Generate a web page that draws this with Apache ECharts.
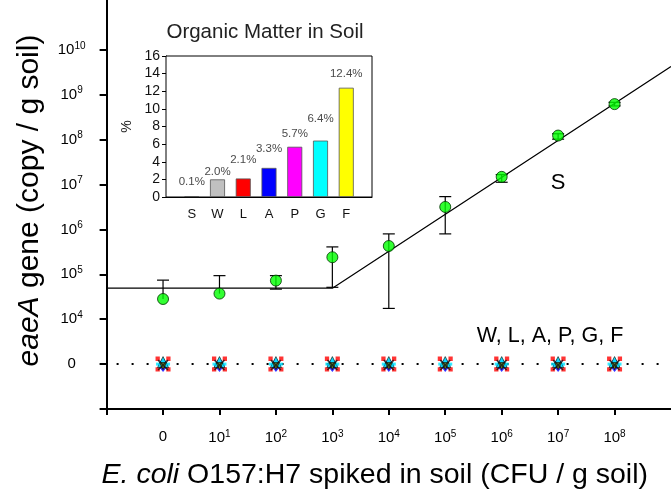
<!DOCTYPE html>
<html>
<head>
<meta charset="utf-8">
<script src="https://cdn.jsdelivr.net/npm/echarts@6/dist/echarts.min.js"></script>
<style>
html,body{margin:0;padding:0;background:#fff;}
#c{width:671px;height:495px;}
</style>
</head>
<body>
<div id="c"></div>
<script>
// ---------- DATA ----------
// x positions on the spiked-level axis: 0 -> "0", n -> 10^n CFU/g
const spikeLevels = [0, 1, 2, 3, 4, 5, 6, 7, 8];
const xTickValues = [0, 1, 2, 3, 4, 5, 6, 7, 8];
const xTickLabels = ['0', '10^1', '10^2', '10^3', '10^4', '10^5', '10^6', '10^7', '10^8'];
// y axis: log10(copies/g); the "0 copies" row sits at position 3
const yTickValues = [3, 4, 5, 6, 7, 8, 9, 10];
const yTickLabels = ['0', '10^4', '10^5', '10^6', '10^7', '10^8', '10^9', '10^10'];
// soil S (log10 copies / g soil)
const sMean    = [4.45, 4.57, 4.86, 5.38, 5.63, 6.50, 7.17, 8.09, 8.79];
const sErrLow  = [4.45, 4.57, 4.67, 4.71, 4.24, 5.90, 7.05, 8.01, 8.75];
const sErrHigh = [4.87, 4.97, 4.97, 5.61, 5.90, 6.73, 7.22, 8.13, 8.83];
// fitted line for S (x position, log10 copies)
const fitX = [-1, 3, 9];
const fitY = [4.69, 4.69, 9.63];
// soils W, L, A, P, G, F: copies detected (all zero)
const otherSoils = ['W', 'L', 'A', 'P', 'G', 'F'];
const otherSoilCopies = [0, 0, 0, 0, 0, 0, 0, 0, 0];
// inset: organic matter in soil (%)
const soilNames = ['S', 'W', 'L', 'A', 'P', 'G', 'F'];
const organicMatter = [0.1, 2.0, 2.1, 3.3, 5.7, 6.4, 12.4];
const organicLabels = ['0.1%', '2.0%', '2.1%', '3.3%', '5.7%', '6.4%', '12.4%'];

// ---------- STYLE ----------
const FONT = '"Liberation Sans", Arial, sans-serif';
const barColors = ['#008000', '#c0c0c0', '#ff0000', '#0000ff', '#ff00ff', '#00ffff', '#ffff00'];
const labelGap = [8, 2, 13, 13, 7, 16, 8];

function copiesToPos(c) { return c > 0 ? Math.log10(c) : 3; }
function richLabel(lbl) {
  const p = lbl.split('^');
  return p.length > 1 ? '{b|' + p[0] + '}{s|' + p[1] + '}' : '{b|' + lbl + '}';
}
const tickRich = {
  b: { fontSize: 15, fontFamily: FONT, color: '#000' },
  s: { fontSize: 10, fontFamily: FONT, color: '#000', padding: [0, 0, 8, 0] }
};

const chart = echarts.init(document.getElementById('c'), null, { renderer: 'canvas' });

const zeroData = spikeLevels.map((x, i) => [x, copiesToPos(otherSoilCopies[i])]);
const markerDefs = [
  { name: 'A', symbol: 'diamond', size: [11, 14], color: '#0000ff', offset: [0, 1] },
  { name: 'L', symbol: 'path://M0,0h4v4h-4z M10,0h4v4h-4z M0,10h4v4h-4z M10,10h4v4h-4z', size: 15, color: '#ff0000', offset: [0, 0] },
  { name: 'G', symbol: 'triangle', size: [11, 11], color: '#00ffff', offset: [0, -2] },
  { name: 'P', symbol: 'rect', size: [14, 3], color: '#00e8ff', offset: [0, 0] },
  { name: 'F', symbol: 'path://M0,0L10,0L5,9Z', size: [7, 7], color: '#888800', offset: [0, 2] },
  { name: 'W', symbol: 'path://M0,1L1,0L5,4L9,0L10,1L6,5L10,9L9,10L5,6L1,10L0,9L4,5Z', size: 11, color: '#111', offset: [0, 1] }
];

const option = {
  backgroundColor: '#fff',
  animation: false,
  grid: [
    { left: 106.6, right: -3, top: 0, bottom: 86 },
    { left: 166, top: 56, width: 206, height: 141, show: true, borderColor: '#000', borderWidth: 1, backgroundColor: '#fff', z: 5 }
  ],
  xAxis: [
    {
      gridIndex: 0, type: 'value', min: -1, max: 9, interval: 1,
      splitLine: { show: false },
      axisLine: { show: true, onZero: false, lineStyle: { color: '#000', width: 2 } },
      axisTick: { show: true, length: 6, lineStyle: { color: '#000', width: 2 }, customValues: [-1, 0, 1, 2, 3, 4, 5, 6, 7, 8] },
      axisLabel: {
        customValues: xTickValues, margin: 20,
        formatter: v => richLabel(xTickLabels[xTickValues.indexOf(v)]),
        rich: tickRich
      },
      name: '{i|E. coli} O157:H7 spiked in soil (CFU / g soil)',
      nameLocation: 'middle', nameGap: 52,
      nameTextStyle: {
        fontSize: 28.5, fontFamily: FONT, color: '#000', padding: [0, 28, 0, 0],
        rich: { i: { fontSize: 28.5, fontFamily: FONT, fontStyle: 'italic', color: '#000' } }
      }
    },
    {
      gridIndex: 1, type: 'category', boundaryGap: false,
      data: [''].concat(soilNames, ['']),
      axisLine: { show: true, onZero: false, lineStyle: { color: '#000', width: 1 } },
      axisTick: { show: false },
      axisLabel: { fontSize: 13, fontFamily: FONT, color: '#111', margin: 11, interval: 0 },
      splitLine: { show: false }
    }
  ],
  yAxis: [
    {
      gridIndex: 0, type: 'value', min: 2, max: 11.109, interval: 1,
      splitLine: { show: false },
      axisLine: { show: true, onZero: false, lineStyle: { color: '#000', width: 2 } },
      axisTick: { show: true, length: 7, lineStyle: { color: '#000', width: 2 }, customValues: [2, 3, 4, 5, 6, 7, 8, 9, 10] },
      axisLabel: {
        customValues: yTickValues, margin: 35, align: 'center',
        formatter: v => richLabel(yTickLabels[yTickValues.indexOf(v)]),
        rich: tickRich
      },
      name: '{i|eaeA} gene (copy / g soil)',
      nameLocation: 'middle', nameGap: 62,
      nameTextStyle: {
        fontSize: 30, fontFamily: FONT, color: '#000', padding: [0, 0, 0, 8],
        rich: { i: { fontSize: 30, fontFamily: FONT, fontStyle: 'italic', color: '#000' } }
      }
    },
    {
      gridIndex: 1, type: 'value', min: 0, max: 16, interval: 2,
      splitLine: { show: false },
      axisLine: { show: true, onZero: false, lineStyle: { color: '#000', width: 1 } },
      axisTick: { show: true, length: 4, lineStyle: { color: '#000' } },
      axisLabel: { fontSize: 14, fontFamily: FONT, color: '#111', margin: 6 },
      name: '%', nameLocation: 'middle', nameGap: 32,
      nameTextStyle: { fontSize: 14, fontFamily: FONT, color: '#222' }
    }
  ],
  series: [
    {
      name: 'zero line', type: 'line', xAxisIndex: 0, yAxisIndex: 0,
      data: [[-1, copiesToPos(0)], [9, copiesToPos(0)]], symbol: 'none',
      lineStyle: { color: '#000', width: 2, type: [2, 13], dashOffset: 5 }, z: 2
    },
    {
      name: 'S fit', type: 'line', xAxisIndex: 0, yAxisIndex: 0,
      data: fitX.map((x, i) => [x, fitY[i]]), symbol: 'none',
      lineStyle: { color: '#000', width: 1.2 }, z: 2
    },
    {
      name: 'S error', type: 'custom', xAxisIndex: 0, yAxisIndex: 0, z: 3,
      data: spikeLevels.map((x, i) => [x, sErrLow[i], sErrHigh[i], sMean[i]]),
      renderItem: function (params, api) {
        const x = api.value(0), lo = api.value(1), hi = api.value(2), m = api.value(3);
        const pl = api.coord([x, lo]), ph = api.coord([x, hi]);
        const st = { stroke: '#000', lineWidth: 1.2 };
        const ch = [{ type: 'line', shape: { x1: pl[0], y1: pl[1], x2: ph[0], y2: ph[1] }, style: st }];
        if (hi > m) ch.push({ type: 'line', shape: { x1: ph[0] - 6, y1: ph[1], x2: ph[0] + 6, y2: ph[1] }, style: st });
        if (lo < m) ch.push({ type: 'line', shape: { x1: pl[0] - 6, y1: pl[1], x2: pl[0] + 6, y2: pl[1] }, style: st });
        return { type: 'group', children: ch };
      }
    },
    {
      name: 'S', type: 'scatter', xAxisIndex: 0, yAxisIndex: 0, z: 4,
      data: spikeLevels.map((x, i) => [x, sMean[i]]),
      symbol: 'circle', symbolSize: 11,
      itemStyle: { color: '#00ff00', borderColor: '#003300', borderWidth: 1 }
    }
  ].concat(markerDefs.map(d => ({
    name: d.name, type: 'scatter', xAxisIndex: 0, yAxisIndex: 0, z: 4,
    data: zeroData, symbol: d.symbol, symbolSize: d.size, symbolOffset: d.offset,
    itemStyle: { color: d.color, borderColor: '#000', borderWidth: d.name === 'G' || d.name === 'F' ? 0.8 : 0 }
  }))).concat([
    {
      name: 'Organic matter', type: 'bar', xAxisIndex: 1, yAxisIndex: 1, z: 6,
      barWidth: 15,
      data: ['-'].concat(organicMatter.map((v, i) => ({
        value: v,
        itemStyle: { color: barColors[i] },
        label: { show: true, position: 'top', distance: labelGap[i], formatter: organicLabels[i] }
      })), ['-']),
      itemStyle: { borderColor: '#555', borderWidth: 0.8 },
      label: { fontSize: 11.5, fontFamily: FONT, color: '#4a4a4a' }
    }
  ]),
  graphic: [
    { type: 'text', x: 265, y: 32, z: 10, style: { text: 'Organic Matter in Soil', fontSize: 20.5, fontFamily: FONT, fill: '#222', align: 'center', verticalAlign: 'middle' } },
    { type: 'text', x: 558, y: 183, z: 10, style: { text: 'S', fontSize: 22, fontFamily: FONT, fill: '#000', align: 'center', verticalAlign: 'middle' } },
    { type: 'text', x: 550, y: 336, z: 10, style: { text: 'W, L, A, P, G, F', fontSize: 21.5, fontFamily: FONT, fill: '#000', align: 'center', verticalAlign: 'middle' } }
  ]
};
chart.setOption(option);
</script>
</body>
</html>
